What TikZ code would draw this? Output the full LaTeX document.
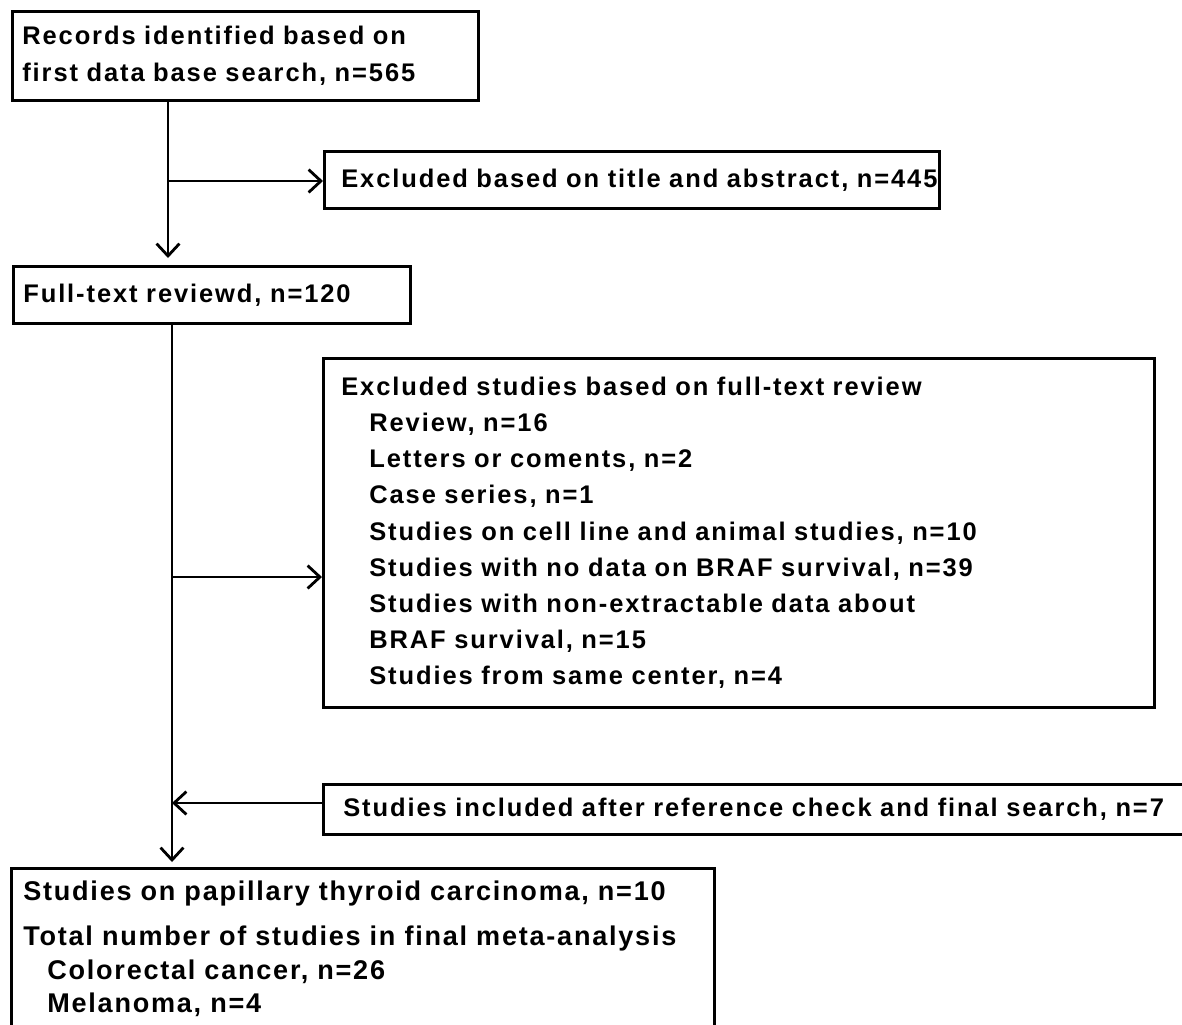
\documentclass[tikz,border=0pt]{standalone}
\usepackage{fontspec}
\setmainfont{Liberation Sans}[LetterSpace=7.5]
\newfontfamily\finalfont{Liberation Sans}[LetterSpace=6.5]
\usetikzlibrary{arrows.meta}
\tikzset{
  flowbox/.style={draw, line width=1.5pt, anchor=north west, align=left,
    inner xsep=0.2cm, inner ysep=0pt,
    font=\fontsize{14.5}{20.6}\selectfont\bfseries},
  flowline/.style={line width=1.6pt},
}
\newcommand{\flowindent}{\hspace*{0.56cm}}

\begin{document}
\begin{tikzpicture}[>={Straight Barb[length=7pt,width=13pt,line width=1.6pt]}]
			\useasboundingbox (0,0) rectangle (23.64,-20.48);

			\node[flowbox, text width=8.92cm, minimum height=1.78cm] (records) at (0.22,-0.20)
				{Records identified based on\\first data base search, n=565};
			\node[flowbox, inner xsep=0.34cm, text width=11.62cm, minimum height=1.14cm] (extitle) at (6.46,-3.00)
				{\mbox{Excluded based on title and abstract, n=445}};
			\node[flowbox, text width=7.54cm, minimum height=1.14cm] (fulltext) at (0.24,-5.30)
				{Full-text reviewd, n=120};
			\node[flowbox, inner xsep=0.36cm, text width=15.90cm, minimum height=6.98cm] (exfull) at (6.44,-7.14)
				{Excluded studies based on full-text review\\
				\flowindent Review, n=16\\
				\flowindent Letters or coments, n=2\\
				\flowindent Case series, n=1\\
				\flowindent Studies on cell line and animal studies, n=10\\
				\flowindent Studies with no data on BRAF survival, n=39\\
				\flowindent Studies with non-extractable data about\\
				\flowindent BRAF survival, n=15\\
				\flowindent Studies from same center, n=4};
			\node[flowbox, inner xsep=0.40cm, text width=16.46cm, minimum height=1.00cm] (added) at (6.44,-15.66)
				{\mbox{Studies included after reference check and final search, n=7}};
			\node[flowbox, inner xsep=0.24cm, inner ysep=0.26cm, text width=13.58cm,
				font=\fontsize{15.4}{18.8}\selectfont\bfseries\finalfont] (final) at (0.20,-17.34)
				{Studies on papillary thyroid carcinoma, n=10\\[0.24cm]
				Total number of studies in final meta-analysis\\
				\hspace*{0.48cm}Colorectal cancer, n=26\\
				\hspace*{0.48cm}Melanoma, n=4\\[1.6cm]};

			\coordinate (trunkA) at (3.36,0);
			\coordinate (trunkB) at (3.44,0);
			\coordinate (forkA) at (0,-3.62);
			\coordinate (forkB) at (0,-11.54);
			\coordinate (joinB) at (0,-16.06);

			\draw[flowline, ->, shorten >=0.14cm] (records.south -| trunkA) -- (fulltext.north -| trunkA);
			\draw[flowline, ->] (forkA -| trunkA) -- (forkA -| extitle.west);
			\draw[flowline, ->, shorten >=0.1cm] (fulltext.south -| trunkB) -- (final.north -| trunkB);
			\draw[flowline, ->] (forkB -| trunkB) -- (forkB -| exfull.west);
			\draw[flowline, ->] (joinB -| added.west) -- (joinB -| trunkB);
		\end{tikzpicture}
\end{document}
